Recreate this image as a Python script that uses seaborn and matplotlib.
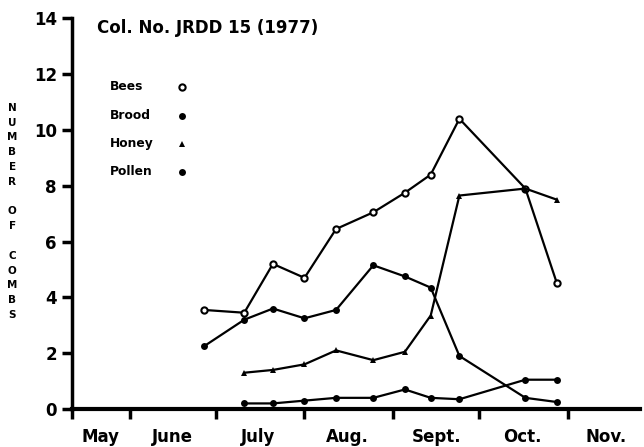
import pandas as pd
import seaborn as sns
import matplotlib.pyplot as plt

# Sampling dates and number of combs
sample_dates = ['1977-06-27', '1977-07-11', '1977-07-21', '1977-08-01', '1977-08-12',
                '1977-08-25', '1977-09-05', '1977-09-14', '1977-09-24', '1977-10-17',
                '1977-10-28']
bees = [3.55, 3.45, 5.2, 4.7, 6.45, 7.05, 7.75, 8.4, 10.4, 7.9, 4.5]
brood = [2.25, 3.2, 3.6, 3.25, 3.55, 5.15, 4.75, 4.35, 1.9, 0.4, 0.25]
honey = [1.3, 1.4, 1.6, 2.1, 1.75, 2.05, 3.35, 7.65, 7.9, 7.5]
pollen = [0.2, 0.2, 0.3, 0.4, 0.4, 0.7, 0.4, 0.35, 1.05, 1.05]

month_edges = ['1977-05-12', '1977-06-01', '1977-07-01', '1977-08-01',
               '1977-09-01', '1977-10-01', '1977-11-01']
month_mids = ['1977-05-22', '1977-06-16', '1977-07-16', '1977-08-16',
              '1977-09-16', '1977-10-16', '1977-11-14']
month_labels = ['May', 'June', 'July', 'Aug.', 'Sept.', 'Oct.', 'Nov.']
y_ticks = [0, 2, 4, 6, 8, 10, 12, 14]

sns.set_theme(style='ticks')
plt.rcParams['font.family'] = ['DejaVu Sans']
plt.rcParams['font.weight'] = 'bold'
for key in ['text.color', 'axes.labelcolor', 'xtick.color', 'ytick.color', 'axes.edgecolor']:
    plt.rcParams[key] = 'black'

dates = pd.to_datetime(sample_dates)
frames = [
    pd.DataFrame({'date': dates, 'combs': bees, 'series': 'Bees'}),
    pd.DataFrame({'date': dates, 'combs': brood, 'series': 'Brood'}),
    pd.DataFrame({'date': dates[1:], 'combs': honey, 'series': 'Honey'}),
    pd.DataFrame({'date': dates[1:], 'combs': pollen, 'series': 'Pollen'}),
]
df = pd.concat(frames, ignore_index=True)

styles = {
    'Bees': dict(marker='o', markersize=4.5, markerfacecolor='white', markeredgewidth=1.5),
    'Brood': dict(marker='o', markersize=5, markerfacecolor='black', markeredgewidth=0),
    'Honey': dict(marker='^', markersize=4.5, markerfacecolor='black', markeredgewidth=0),
    'Pollen': dict(marker='o', markersize=5, markerfacecolor='black', markeredgewidth=0),
}

fig = plt.figure(figsize=(6.44, 4.47), dpi=100)
ax = fig.add_axes([0.112, 0.085, 0.882, 0.874])

for name, kw in styles.items():
    sub = df[df['series'] == name]
    sns.lineplot(data=sub, x='date', y='combs', ax=ax, color='black',
                 linewidth=1.6, markeredgecolor='black', **kw)

ax.set_xlim(pd.Timestamp('1977-05-12'), pd.Timestamp('1977-11-26'))
ax.set_ylim(0, 14)
ax.set_xlabel('')
ax.set_ylabel('')

ax.set_xticks(pd.to_datetime(month_edges))
ax.set_xticklabels([])
ax.set_xticks(pd.to_datetime(month_mids), minor=True)
ax.set_xticklabels(month_labels, minor=True)
ax.tick_params(axis='x', which='major', length=7, width=2.5, direction='out', color='black')
ax.tick_params(axis='x', which='minor', length=0, pad=14, labelsize=12, labelcolor='black')
ax.set_yticks(y_ticks)
ax.tick_params(axis='y', length=7, width=2.5, direction='out', pad=4, labelsize=12,
               color='black', labelcolor='black')
for lab in ax.get_xticklabels(minor=True) + ax.get_yticklabels():
    lab.set_fontweight('bold')

sns.despine(ax=ax)
ax.spines['left'].set_linewidth(2.5)
ax.spines['bottom'].set_linewidth(3)

ax.text(0.044, 0.976, 'Col. No. JRDD 15 (1977)', transform=ax.transAxes,
        fontsize=12, fontweight='bold', va='center', ha='left', color='black')

# legend: left-aligned labels, markers in a column to the right
legend_y = [0.825, 0.750, 0.679, 0.607]
for (name, kw), yy in zip(styles.items(), legend_y):
    ax.text(0.067, yy, name, transform=ax.transAxes, fontsize=8.8, fontweight='bold',
            va='center', ha='left', color='black')
    ax.plot([0.194], [yy], transform=ax.transAxes, color='black', linestyle='none',
            markeredgecolor='black', clip_on=False, **kw)

fig.text(0.019, 0.527, '\n'.join('NUMBER OF COMBS'), fontsize=7.5, fontweight='bold',
         ha='center', va='center', linespacing=1.6, color='black')

fig.savefig('out.png', dpi=100)
